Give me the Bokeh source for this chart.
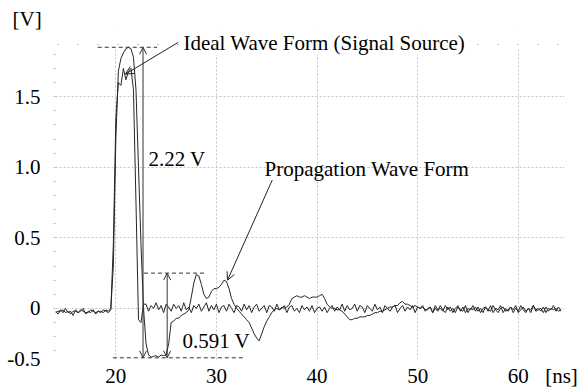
import numpy as np
from bokeh.plotting import figure
from bokeh.models import (Range1d, FixedTicker, Label, Arrow, OpenHead, Grid,
                          BoxAnnotation)
from bokeh.embed import file_html
from bokeh.resources import INLINE

# ---------------- data ----------------
t_start = 14.0   # ns
t_step = 0.25    # ns

ideal_v = [
    -0.02, -0.04, -0.01, -0.03, 0.00, -0.03, -0.02, -0.05, -0.01, -0.03,
    -0.02, 0.00, -0.04, -0.02, -0.03, -0.01, -0.04, -0.02, -0.03, -0.01,
    -0.02, -0.03,
    -0.01, 0.45, 1.35, 1.60, 1.58, 1.70, 1.62, 1.68, 1.70, 1.55, 0.75, -0.08, -0.10, 0.03,
    0.03, -0.02, 0.02, 0.00, 0.04, -0.01, 0.02, -0.03, 0.03, 0.01,
    -0.02, 0.03, 0.00, 0.02, -0.02, 0.04, -0.01, 0.01, -0.03, 0.02,
    0.00, 0.03, -0.02, 0.01, 0.04, -0.02, 0.02, -0.01, 0.03, -0.03,
    0.01, 0.02, -0.02, 0.03, 0.00, -0.03, 0.02, 0.01, -0.02, 0.03,
    -0.01, 0.02, -0.03, 0.01, 0.03, -0.02, 0.00, 0.02, -0.03, 0.02,
    0.01, -0.02, 0.03, -0.01, 0.00, 0.02, -0.03, 0.01, 0.02, -0.02,
    0.00, -0.03, 0.02, -0.01, 0.01, -0.02, 0.02, -0.03, 0.00, 0.01,
    -0.02, 0.01, -0.03, 0.00, 0.02, -0.02, 0.01, -0.01, 0.03, -0.02,
    0.02, -0.01, 0.00, 0.03, -0.02, 0.02, 0.01, -0.03, 0.02, 0.00,
    -0.02, 0.03, -0.01, 0.01, -0.03, 0.02, 0.00, -0.02, 0.01, 0.02,
    -0.03, 0.00, 0.02, -0.02, 0.01, -0.01, 0.02, -0.03, 0.01, 0.00,
    0.02, -0.02, 0.00, 0.01, -0.03, 0.02, -0.01, 0.00, -0.02, 0.02,
    -0.01, 0.01, -0.03, 0.00, 0.02, -0.02, 0.01, -0.03, 0.00, -0.01,
    0.02, -0.02, 0.01, -0.03, 0.00, 0.01, -0.02, 0.02, -0.03, 0.00,
    -0.01, 0.02, -0.03, 0.00, -0.02, 0.01, -0.01, 0.02, -0.03, -0.01,
    0.01, -0.02, 0.00, -0.03, 0.02, -0.01, 0.00, -0.02, 0.01, -0.03,
    0.00, -0.01, 0.02, -0.02, 0.01, -0.02,
]

prop_v = [
    -0.03, -0.02, -0.02, -0.01, -0.03, -0.02, -0.04, -0.02, -0.02, -0.03,
    -0.01, -0.02, -0.03, -0.03, -0.01, -0.02, -0.03, -0.02, -0.02, -0.03,
    -0.01, -0.02,
    0.00, 0.30, 1.20, 1.68, 1.77, 1.81, 1.84, 1.85, 1.84, 1.78,
    1.55, 1.00, 0.45, 0.00, -0.25, -0.33, -0.345, -0.34, -0.335, -0.345,
    -0.33, -0.335, -0.33, -0.25, -0.10, -0.09, -0.07, -0.07, -0.05, -0.04,
    -0.03, -0.01, 0.08, 0.18, 0.24, 0.23, 0.17, 0.10, 0.07, 0.08,
    0.12, 0.14, 0.14, 0.15, 0.17, 0.20, 0.19, 0.14, 0.07, 0.03,
    0.00, -0.02, -0.04, -0.06, -0.08, -0.10, -0.14, -0.18, -0.21, -0.23,
    -0.18, -0.13, -0.09, -0.06, -0.03, -0.01, 0.00, -0.01, 0.01, 0.00,
    0.01, 0.03, 0.07, 0.08, 0.09, 0.08, 0.08, 0.09, 0.08, 0.07,
    0.08, 0.08, 0.08, 0.09, 0.10, 0.07, 0.03, 0.01, 0.00, 0.00,
    -0.01, -0.01, -0.02, -0.04, -0.06, -0.08, -0.08, -0.07, -0.07, -0.06,
    -0.06, -0.06, -0.05, -0.05, -0.04, -0.03, -0.03, -0.02, -0.02, -0.01,
    0.00, 0.01, 0.01, 0.02, 0.02, 0.04, 0.05, 0.03, 0.03, 0.02,
    0.01, 0.02, 0.01, 0.00, 0.01, -0.01,
    -0.01, 0.01, -0.03, 0.00, -0.02, 0.02, -0.01, -0.03, 0.01, -0.02,
    0.00, -0.03, 0.01, -0.01, -0.02, 0.02, -0.03, 0.00, -0.01, 0.01,
    -0.02, 0.00, -0.03, 0.01, -0.01, -0.02, 0.02, -0.01, -0.03, 0.00,
    0.01, -0.02, -0.01, 0.01, -0.03, 0.00, -0.02, 0.02, -0.01, -0.03,
    0.00, -0.01, 0.02, -0.02, -0.01, 0.00, -0.03, 0.01, -0.02, 0.00,
    -0.01, 0.00, -0.02, -0.01,
]

time_ns = t_start + t_step * np.arange(len(ideal_v))

x_ticks = [20, 30, 40, 50, 60]
x_unit = "[ns]"
y_ticks = [0, 0.5, 1.0, 1.5]
y_tick_labels = ["0", "0.5", "1.0", "1.5"]
y_unit = "[V]"
bottom_label = "-0.5"

peak_v = 1.85        # top of the pulse
trough_v = -0.35     # lowest level of the propagated wave
reflect_top_v = 0.25 # top of the reflection bump
amp_text = "2.22 V"
refl_text = "0.591 V"
ideal_text = "Ideal Wave Form (Signal Source)"
prop_text = "Propagation Wave Form"

# ---------------- figure ----------------
FONT = "Liberation Serif"
FS = "21px"
Y_BOTTOM = -0.362
Y_TOP = 1.969
X_LEFT, X_RIGHT = 14.0, 64.6
NS_POS = 64.3       # where the unit label sits on the x axis
BOTTOM_TICK = -0.36
TOP_EDGE = 1.87

p = figure(width=579, height=390, output_backend="svg", toolbar_location=None,
           x_range=Range1d(X_LEFT, X_RIGHT), y_range=Range1d(Y_BOTTOM, Y_TOP),
           min_border_left=55, min_border_right=15, min_border_top=30,
           min_border_bottom=31)
p.outline_line_color = None
p.background_fill_color = "white"
p.border_fill_color = "white"

# unit on the y axis shown as a title at top-left
p.title.text = y_unit
p.title.align = "left"
p.title.offset = -43
p.title.standoff = 0
p.title.text_font = FONT
p.title.text_font_size = FS
p.title.text_font_style = "normal"
p.title.text_color = "black"

# x axis
p.xaxis.ticker = FixedTicker(ticks=x_ticks + [NS_POS], minor_ticks=[])
p.xaxis.major_label_overrides = {NS_POS: x_unit}
p.xaxis.axis_line_color = None
p.xaxis.major_tick_line_color = None
p.xaxis.major_tick_out = 0
p.xaxis.major_tick_in = 0
p.xaxis.major_label_standoff = 4
p.xaxis.major_label_text_font = FONT
p.xaxis.major_label_text_font_size = FS
p.xaxis.major_label_text_color = "black"

# y axis
p.yaxis.ticker = FixedTicker(ticks=[BOTTOM_TICK] + y_ticks,
                             minor_ticks=[round(-0.3 + 0.1 * k, 1) for k in range(22)])
ov = {BOTTOM_TICK: bottom_label}
for v, s in zip(y_ticks, y_tick_labels):
    ov[float(v)] = s
p.yaxis.major_label_overrides = ov
p.yaxis.axis_line_color = None
p.yaxis.major_tick_line_color = None
p.yaxis.major_tick_out = 0
p.yaxis.major_tick_in = 0
p.yaxis.minor_tick_line_color = "#b8b8b8"
p.yaxis.minor_tick_in = 0
p.yaxis.minor_tick_out = 2
p.yaxis.major_label_standoff = 13
p.yaxis.major_label_text_font = FONT
p.yaxis.major_label_text_font_size = FS
p.yaxis.major_label_text_color = "black"

# grid
p.xgrid.ticker = FixedTicker(ticks=x_ticks)
p.ygrid.ticker = FixedTicker(ticks=y_ticks)
for g in (p.xgrid, p.ygrid):
    g.grid_line_color = "#c4c4c4"
    g.grid_line_dash = "2 2"
    g.grid_line_width = 1

# white band hiding grid tops above the plotting area
p.add_layout(BoxAnnotation(bottom=1.835, fill_color="white", fill_alpha=1.0,
                           line_color=None, level="underlay"))
# sparse dotted top edge
p.add_layout(Grid(dimension=1, ticker=FixedTicker(ticks=[TOP_EDGE]),
                  grid_line_color="#8a8a8a", grid_line_dash="1 19",
                  grid_line_dash_offset=-2, grid_line_width=1))

# waveforms
p.line(time_ns, ideal_v, line_color="#262626", line_width=1)
p.line(time_ns, prop_v, line_color="#262626", line_width=1)

# dashed reference lines
dash_col = "#333333"
p.line([18.2, 24.1], [peak_v, peak_v], line_color=dash_col, line_dash="4 3", line_width=1)
p.line([19.7, 32.9], [trough_v, trough_v], line_color=dash_col, line_dash="4 3", line_width=1)
p.line([22.8, 29.0], [reflect_top_v, reflect_top_v], line_color=dash_col, line_dash="4 3", line_width=1)

# measurement arrows
p.add_layout(Arrow(start=OpenHead(size=7, line_width=1, line_color=dash_col),
                   end=OpenHead(size=7, line_width=1, line_color=dash_col),
                   x_start=22.7, y_start=peak_v, x_end=22.7, y_end=trough_v,
                   line_color=dash_col, line_width=1))
p.add_layout(Arrow(start=OpenHead(size=7, line_width=1, line_color=dash_col),
                   end=OpenHead(size=7, line_width=1, line_color=dash_col),
                   x_start=25.1, y_start=reflect_top_v, x_end=25.1, y_end=trough_v,
                   line_color=dash_col, line_width=1))

# pointer arrows
p.add_layout(Arrow(end=OpenHead(size=8, line_width=1, line_color="#222222"),
                   x_start=26.2, y_start=1.885, x_end=20.95, y_end=1.66,
                   line_color="#222222", line_width=1))
p.add_layout(Arrow(end=OpenHead(size=8, line_width=1, line_color="#222222"),
                   x_start=35.55, y_start=0.91, x_end=31.1, y_end=0.20,
                   line_color="#222222", line_width=1))

def lab(x, y, text, align="left", bg=None):
    p.add_layout(Label(x=x, y=y, text=text, text_font=FONT, text_font_size=FS,
                       text_color="black", text_align=align, text_baseline="middle",
                       background_fill_color=bg))

lab(26.72, 1.883, ideal_text, bg="white")
lab(34.78, 0.99, prop_text)
lab(23.24, 1.06, amp_text)
lab(26.62, -0.233, refl_text)

open("out.html", "w").write(file_html(p, INLINE))
